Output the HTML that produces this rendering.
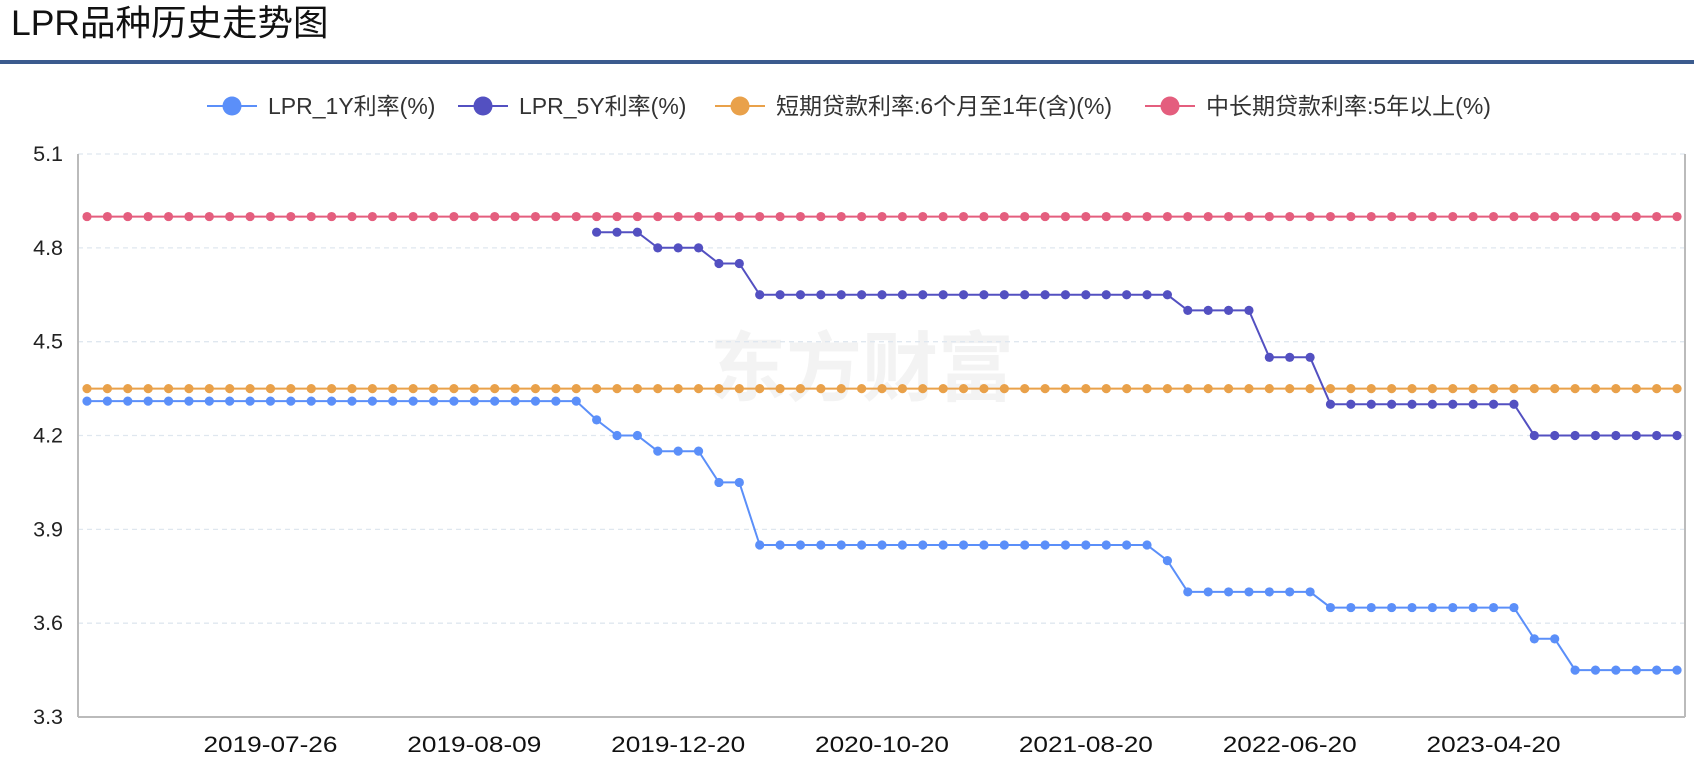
<!DOCTYPE html>
<html><head><meta charset="utf-8">
<style>
html,body{margin:0;padding:0;background:#fff;}
svg{display:block;}
text{font-family:"Liberation Sans","Noto Sans CJK SC",sans-serif;}
</style></head>
<body>
<svg id="c" width="1694" height="760" xmlns="http://www.w3.org/2000/svg">
<rect width="1694" height="760" fill="#fff"/>
<text x="11" y="35" font-size="35.5" fill="#111">LPR品种历史走势图</text>
<rect x="0" y="60" width="1694" height="4" fill="#3b5b8e"/>
<text x="862" y="395" font-size="76" font-weight="bold" fill="#f3f3f3" text-anchor="middle">东方财富</text>
<g id="grid"></g>
<g id="series"></g>
<g id="legend"></g>
</svg>
<script>
var NS="http://www.w3.org/2000/svg";
function el(t,a,p,txt){var e=document.createElementNS(NS,t);for(var k in a)e.setAttribute(k,a[k]);if(txt!=null)e.textContent=txt;(p||document.getElementById('c')).appendChild(e);return e;}
var L=78,R=1685,T=154,B=717;
function X(i){return 87+i*20.385;}
function Y(v){return T+(5.1-v)*312.8;}
var g=document.getElementById('grid');
[5.1,4.8,4.5,4.2,3.9,3.6].forEach(function(v){el('line',{x1:L,x2:R,y1:Y(v),y2:Y(v),stroke:'#dfe7ef','stroke-width':1.3,'stroke-dasharray':'5,4'},g);});
el('line',{x1:L,x2:L,y1:T,y2:B,stroke:'#bbb','stroke-width':2},g);
el('line',{x1:R,x2:R,y1:T,y2:B,stroke:'#bbb','stroke-width':2},g);
el('line',{x1:L,x2:R,y1:B,y2:B,stroke:'#bbb','stroke-width':2},g);
['5.1','4.8','4.5','4.2','3.9','3.6','3.3'].forEach(function(s){el('text',{x:63,y:Y(+s)+7,'font-size':21.5,fill:'#222','text-anchor':'end'},g,s);});
var labs=['2019-07-26','2019-08-09','2019-12-20','2020-10-20','2021-08-20','2022-06-20','2023-04-20'];
labs.forEach(function(s,k){el('text',{x:X(9+10*k),y:752,'font-size':22,fill:'#111','text-anchor':'middle',textLength:134,lengthAdjust:'spacingAndGlyphs'},g,s);});
function seg(ranges){var a=[];for(var i=0;i<79;i++)a.push(null);ranges.forEach(function(r){for(var i=r[0];i<=r[1];i++)a[i]=r[2];});return a;}
var pink=seg([[0,78,4.9]]),orange=seg([[0,78,4.35]]);
var y1=seg([[0,24,4.31],[25,25,4.25],[26,27,4.2],[28,30,4.15],[31,32,4.05],[33,52,3.85],[53,53,3.8],[54,60,3.7],[61,70,3.65],[71,72,3.55],[73,78,3.45]]);
var y5=seg([[25,27,4.85],[28,30,4.8],[31,32,4.75],[33,53,4.65],[54,57,4.6],[58,60,4.45],[61,70,4.3],[71,78,4.2]]);
var sg=document.getElementById('series');
function draw(d,col){var pts=[];d.forEach(function(v,i){if(v!=null)pts.push(X(i).toFixed(1)+','+Y(v).toFixed(1));});
el('polyline',{points:pts.join(' '),fill:'none',stroke:col,'stroke-width':2},sg);
d.forEach(function(v,i){if(v!=null)el('circle',{cx:X(i),cy:Y(v),r:4.6,fill:col},sg);});}
draw(pink,'#e45e7e');draw(orange,'#e9a14a');draw(y5,'#5350c1');draw(y1,'#5b8ff9');
var lg=document.getElementById('legend');
[[207,'#5b8ff9','LPR_1Y利率(%)'],[458,'#5350c1','LPR_5Y利率(%)'],[715,'#e9a14a','短期贷款利率:6个月至1年(含)(%)'],[1145,'#e45e7e','中长期贷款利率:5年以上(%)']].forEach(function(o){
el('line',{x1:o[0],x2:o[0]+50,y1:106,y2:106,stroke:o[1],'stroke-width':2},lg);
el('circle',{cx:o[0]+25,cy:106,r:9.5,fill:o[1]},lg);
el('text',{x:o[0]+61,y:114,'font-size':23,fill:'#333'},lg,o[2]);});
</script>
</body></html>
